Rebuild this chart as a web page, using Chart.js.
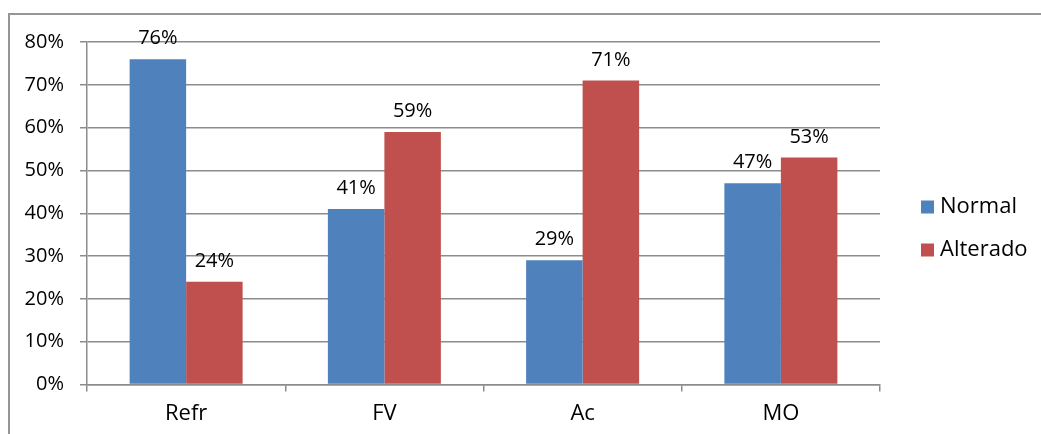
<!DOCTYPE html>
<html>
<head>
<meta charset="utf-8">
<script src="https://cdn.jsdelivr.net/npm/chart.js@4/dist/chart.umd.min.js"></script>
<style>
  html, body { margin: 0; padding: 0; background: #fff; overflow: hidden; }
  #wrap { position: relative; width: 1041px; height: 434px; }
  #frame {
    position: absolute; left: 8px; top: 13px; width: 1100px; height: 500px;
    border: 2px solid #969696; box-sizing: border-box; pointer-events: none;
  }
  canvas { position: absolute; left: 0; top: 0; }
</style>
</head>
<body>
<div id="wrap">
  <div id="frame"></div>
  <canvas id="c" width="1041" height="434"></canvas>
</div>
<script>
// Categories and series (percent)
const categories = ['Refr', 'FV', 'Ac', 'MO'];
const normalValues = [76, 41, 29, 47];
const alteradoValues = [24, 59, 71, 53];
const seriesNames = ['Normal', 'Alterado'];
const seriesColors = ['#4F81BD', '#C0504D'];
const yTickMax = 80;
const yTickStep = 10;

const FONT = "'Open Sans', 'DejaVu Sans', sans-serif";
const GRID = '#8c8c8c';

// Percentage labels above each bar
const barValueLabels = {
  id: 'barValueLabels',
  afterDatasetsDraw(chart) {
    const ctx = chart.ctx;
    ctx.save();
    ctx.font = '20px ' + FONT;
    ctx.fillStyle = '#000';
    ctx.textAlign = 'center';
    ctx.textBaseline = 'alphabetic';
    chart.data.datasets.forEach((ds, di) => {
      chart.getDatasetMeta(di).data.forEach((bar, i) => {
        ctx.fillText(ds.data[i] + '%', bar.x, bar.y - 15);
      });
    });
    ctx.restore();
  }
};

// Legend at the right: square swatch + series name
const sideLegend = {
  id: 'sideLegend',
  afterDraw(chart) {
    const ctx = chart.ctx;
    const area = chart.chartArea;
    ctx.save();
    ctx.font = '22px ' + FONT;
    ctx.textBaseline = 'middle';
    ctx.textAlign = 'left';
    chart.data.datasets.forEach((ds, i) => {
      const cy = area.top + 165 + i * 43;
      const x0 = area.right + 41;
      ctx.fillStyle = ds.backgroundColor;
      ctx.fillRect(x0, cy - 6.5, 13, 13);
      ctx.fillStyle = '#000';
      ctx.fillText(ds.label, x0 + 19, cy);
    });
    ctx.restore();
  }
};

new Chart(document.getElementById('c'), {
  type: 'bar',
  data: {
    labels: categories,
    datasets: [
      { label: seriesNames[0], data: normalValues, backgroundColor: seriesColors[0] },
      { label: seriesNames[1], data: alteradoValues, backgroundColor: seriesColors[1] }
    ]
  },
  options: {
    responsive: false,
    animation: false,
    devicePixelRatio: 1,
    layout: { padding: { top: 42, left: 0, right: 161, bottom: 10 } },
    datasets: { bar: { categoryPercentage: 0.57, barPercentage: 1.0 } },
    plugins: { legend: { display: false }, tooltip: { enabled: false } },
    scales: {
      x: {
        grid: { drawOnChartArea: false, drawTicks: true, tickLength: 7, color: GRID, lineWidth: 1.5, offset: true },
        border: { color: GRID, width: 1.5 },
        ticks: { color: '#000', font: { family: FONT, size: 22 }, padding: 9 },
        afterFit(scale) { scale.height = 39.5; }
      },
      y: {
        min: 0, max: yTickMax,
        grid: { color: GRID, lineWidth: 1.5, tickLength: 7 },
        border: { color: GRID, width: 1.5 },
        ticks: {
          stepSize: yTickStep, color: '#000', padding: 16,
          font: { family: FONT, size: 20 },
          callback: v => v + '%'
        },
        afterFit(scale) { scale.width = 87; }
      }
    }
  },
  plugins: [barValueLabels, sideLegend]
});
</script>
</body>
</html>
